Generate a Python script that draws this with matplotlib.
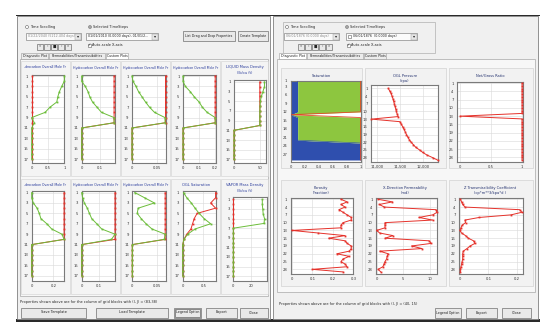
import matplotlib
matplotlib.use('Agg')
import matplotlib.pyplot as plt
from matplotlib.patches import Rectangle, Circle
from matplotlib.ticker import FuncFormatter
from matplotlib.transforms import Bbox

# ---------------- data (left window: 17 grid layers) ----------------
layers_left = [1, 2, 3, 4, 5, 6, 7, 8, 9, 10, 11, 12, 13, 14, 15, 16, 17]

hc1_green = [1.0, 1.0, 0.92, 0.85, 0.80, 0.77, 0.56, 0.41, 0.0, 0.08, 0, 0, 0, 0, 0, 0, 0]
hc1_red = [0, 0, 0, 0, 0, 0, 0, 0, 0, 0, 0, 0, 0, 0, 0, 0, 0]
hc2_green = [0.0, 0.0, 0.02, 0.035, 0.045, 0.06, 0.085, 0.11, 0.18, 0.18, 0, 0, 0, 0, 0, 0, 0]
hc2_red = [0.18, 0.18, 0.18, 0.18, 0.18, 0.18, 0.18, 0.18, 0.18, 0.18, 0, 0, 0, 0, 0, 0, 0]
hc3_green = [0.0, 0.002, 0.008, 0.013, 0.02, 0.027, 0.035, 0.045, 0.066, 0.066, 0, 0, 0, 0, 0, 0, 0]
hc3_red = [0.067, 0.067, 0.067, 0.067, 0.067, 0.067, 0.067, 0.067, 0.067, 0.067, 0, 0, 0, 0, 0, 0, 0]
hc4_green = [0.0, 0.0, 0.015, 0.045, 0.07, 0.10, 0.12, 0.15, 0.20, 0.20, 0, 0, 0, 0, 0, 0, 0]
hc4_red = [0.20, 0.20, 0.20, 0.20, 0.20, 0.20, 0.20, 0.20, 0.20, 0.20, 0, 0, 0, 0, 0, 0, 0]
liq_green = [59, 59, 56, 53, 51, 50.5, 50, 50, 50, 50, 0, 0, 0, 0, 0, 0, 0]
liq_red = [50, 50, 50, 50, 50, 50, 50, 50, 50, 50, 0, 0, 0, 0, 0, 0, 0]

hc5_green = [0.0, 0.0, 0.015, 0.05, 0.07, 0.085, 0.14, 0.185, 0.28, 0.30, 0, 0, 0, 0, 0, 0, 0]
hc5_red = [0.30, 0.30, 0.30, 0.30, 0.30, 0.30, 0.30, 0.30, 0.30, 0.30, 0, 0, 0, 0, 0, 0, 0]
hc6_green = [0.0, 0.005, 0.015, 0.032, 0.044, 0.057, 0.086, 0.114, 0.19, 0.17, 0, 0, 0, 0, 0, 0, 0]
hc6_red = [0.19, 0.19, 0.19, 0.19, 0.19, 0.19, 0.19, 0.19, 0.19, 0.19, 0, 0, 0, 0, 0, 0, 0]
hc7_green = [0.005, 0.025, 0.045, 0.012, 0.01, 0.018, 0.028, 0.04, 0.067, 0.065, 0, 0, 0, 0, 0, 0, 0]
hc7_red = [0.067, 0.067, 0.067, 0.067, 0.067, 0.067, 0.067, 0.067, 0.067, 0.067, 0, 0, 0, 0, 0, 0, 0]
oglsat_green = [0.02, 0.10, 0.21, 0.30, 0.40, 0.52, 0.68, 0.30, 0.12, 0.03, 0, 0, 0, 0, 0, 0, 0]
oglsat_red = [0.80, 0.80, 0.68, 0.80, 0.35, 0.28, 0.24, 0.20, 0.10, 0.03, 0, 0, 0, 0, 0, 0, 0]
vap_green = [33, 33, 33.5, 34, 35.5, 35, 0, 0, 0, 0, 0, 0, 0, 0, 0, 0, 0]
vap_red = [0, 0, 0, 0, 0, 0, 0, 0, 0, 0, 0, 0, 0, 0, 0, 0, 0]

# ---------------- data (right window: 29 grid layers) ----------------
layers_right = [1, 2, 3, 4, 5, 6, 7, 8, 9, 10, 11, 12, 13, 14, 15, 16, 17, 18, 19, 20,
                21, 22, 23, 24, 25, 26, 27, 28, 29]
water_sat = [0.1, 0.1, 0.1, 0.1, 0.1, 0.1, 0.1, 0.1, 0.1, 0.1, 0.1, 0.1, 0.0, 0.1, 0.1,
             0.1, 0.1, 0.1, 0.1, 0.1, 0.1, 0.1, 1.0, 1.0, 1.0, 1.0, 1.0, 1.0, 1.0]
oil_sat = [0.9, 0.9, 0.9, 0.9, 0.9, 0.9, 0.9, 0.9, 0.9, 0.9, 0.9, 0.9, 0.0, 0.9, 0.9,
           0.9, 0.9, 0.9, 0.9, 0.9, 0.9, 0.9, 0.0, 0.0, 0.0, 0.0, 0.0, 0.0, 0.0]
gas_sat = [0, 0, 0, 0, 0, 0, 0, 0, 0, 0, 0, 0, 0, 0, 0, 0, 0, 0, 0, 0, 0, 0, 0, 0, 0, 0, 0, 0, 0]
ogl_pressure = [11250, 11280, 11310, 11330, 11350, 11365, 11380, 11395, 11410, 11425,
                11440, 11465, 10890, 11500, 11530, 11560, 11590, 11615, 11640, 11670,
                11700, 11740, 11790, 11840, 11920, 11990, 12080, 12200, 12310]
net_gross = [1, 1, 1, 1, 1, 1, 1, 1, 1, 1, 1, 1, 0, 1, 1, 1, 1, 1, 1, 1,
             1, 1, 1, 1, 1, 1, 1, 1, 1]
porosity = [0.24, 0.27, 0.24, 0.26, 0.23, 0.25, 0.27, 0.29, 0.29, 0.25, 0.24, 0.24, 0.0,
            0.13, 0.26, 0.18, 0.26, 0.27, 0.29, 0.29, 0.28, 0.22, 0.28, 0.25, 0.24, 0.26,
            0.27, 0.10, 0.25]
x_perm = [0.3, 3.0, 0.5, 1.5, 11.2, 11.4, 10.6, 8.0, 10.6, 1.6, 1.6, 1.6, 0.0, 0.6, 3.1,
          1.6, 9.9, 10.3, 6.6, 8.6, 0.6, 2.2, 2.0, 1.9, 1.6, 1.4, 1.2, 0.3, 0.8]
z_trans = [0.002, 0.006, 0.010, 0.018, 0.21, 0.218, 0.18, 0.068, 0.018, 0.02, 0.008,
           0.004, 0.0, 0.006, 0.02, 0.03, 0.048, 0.053, 0.036, 0.025, 0.012, 0.01, 0.01,
           0.01, 0.008, 0.006, 0.004, 0.002, 0.002]

# ---------------- figure ----------------
W, H = 540, 328
fig = plt.figure(figsize=(5.4, 3.28), dpi=100)
fig.patch.set_facecolor('white')


def frac(x0, y0, x1, y1):
    return [x0 / W, 1 - y1 / H, (x1 - x0) / W, (y1 - y0) / H]


bg = fig.add_axes([0, 0, 1, 1])
bg.set_xlim(0, W)
bg.set_ylim(H, 0)
bg.axis('off')

UI_FS = 2.5
GREEN = '#6cbd3a'
RED = '#e5312a'


def box(x0, y0, x1, y1, fc='#f0f0f0', ec='#a0a0a0', lw=0.5, z=1):
    bg.add_patch(Rectangle((x0, y0), x1 - x0, y1 - y0, fc=fc, ec=ec, lw=lw, zorder=z))


def label(x, y, s, fs=UI_FS, ha='left', color='#222222', **kw):
    return bg.text(x, y, s, fontsize=fs, ha=ha, va='center', color=color, zorder=5, **kw)


def clip_to(t, x0, y0, x1, y1):
    t.set_clip_box(Bbox.from_extents(x0, H - y1, x1, H - y0))
    t.set_clip_on(True)


def button(x0, y0, x1, y1, s, fs=UI_FS, focus=False):
    box(x0, y0, x1, y1, fc='#e9e9e9', ec='#707070', lw=0.5, z=2)
    if focus:
        box(x0 + 1, y0 + 1, x1 - 1, y1 - 1, fc='none', ec='#404040', lw=0.4, z=3)
    label((x0 + x1) / 2, (y0 + y1) / 2, s, fs=fs, ha='center')


def radio(x, y, s, on=False):
    bg.add_patch(Circle((x, y), 1.5, fc='white', ec='#606060', lw=0.4, zorder=3))
    if on:
        bg.add_patch(Circle((x, y), 0.7, fc='#222222', ec='none', zorder=4))
    label(x + 3, y, s)


def checkbox(x, y, s):
    box(x - 1.5, y - 1.5, x + 1.5, y + 1.5, fc='white', ec='#606060', lw=0.4, z=3)
    label(x, y, '✓', fs=2.6, ha='center')
    label(x + 3, y, s)


def dropdown(x0, y0, x1, y1, s, color='#222222'):
    box(x0, y0, x1, y1, fc='#fbfbfb', ec='#8a8a8a', lw=0.5, z=2)
    t = label(x0 + 1.5, (y0 + y1) / 2, s, color=color, fs=2.3)
    clip_to(t, x0, y0, x1 - 6, y1)
    box(x1 - 6, y0 + 0.5, x1 - 0.5, y1 - 0.5, fc='#e6e6e6', ec='#9a9a9a', lw=0.3, z=6)
    bg.text(x1 - 3.2, (y0 + y1) / 2, '▾', fontsize=3, ha='center', va='center',
            color='#222222', zorder=7)


def navbuttons(x0, y0):
    for i, s in enumerate(['«', '‹', '■', '›', '»']):
        button(x0 + i * 7, y0, x0 + i * 7 + 6, y0 + 6, s, fs=2.6)


def tabs(x0, y, names, sel):
    x = x0
    for i, n in enumerate(names):
        w = len(n) * 1.62 + 3
        fc = 'white' if i == sel else '#ececec'
        box(x, y, x + w, y + 6.5, fc=fc, ec='#9a9a9a', lw=0.4, z=2)
        label(x + w / 2, y + 3.3, n, ha='center', fs=2.3)
        x += w + 0.5


# top / bottom window borders
bg.add_patch(Rectangle((16, 14.5), W - 16, 1.6, fc='#2a2a2a', ec='none', zorder=1))
bg.add_patch(Rectangle((16, 319), W - 16, 3, fc='#2a2a2a', ec='none', zorder=1))

# ---------------- left window chrome ----------------
box(17, 16, 269.5, 319, fc='#f0f0f0', ec='#808080', lw=0.6)
radio(27, 27, 'Time Scrolling')
radio(90, 27, 'Selected TimeSteps', on=True)
dropdown(26, 33, 81, 40, '01/22/2040 (5212.404 days)', color='#888888')
dropdown(86, 33, 158, 40, '01/01/2010 (0.0000 days), 01/01/2...')
navbuttons(37, 43.5)
checkbox(89, 45.5, 'Auto-scale X-axis')
button(183, 31, 235, 40.5, 'List Drag and Drop Properties', fs=2.3)
button(237.5, 31, 268, 40.5, 'Create Template', fs=2.3)
box(20, 59, 268, 296, fc='#f7f7f7', ec='#a8a8a8', lw=0.5)
tabs(21, 52.5, ['Diagnostic Plot', 'Permeabilities/Transmissibilities', 'Custom Plots'], 2)
label(20, 302.5, 'Properties shown above are for the column of grid blocks with (I, J) = (83,38)')
button(21, 307.5, 86, 317.5, 'Save Template')
button(96, 307.5, 168, 317.5, 'Load Template')
button(174, 307.5, 201, 317.5, 'Legend Option', focus=True, fs=2.3)
button(206, 307.5, 237, 317.5, 'Export')
button(240, 307.5, 268, 317.5, 'Close')

# ---------------- right window chrome ----------------
box(273, 16, 538, 319, fc='#f0f0f0', ec='#808080', lw=0.6)
box(283, 21.5, 435, 53, fc='none', ec='#b0b0b0', lw=0.5)
radio(287, 27, 'Time Scrolling')
radio(347, 27, 'Selected TimeSteps', on=True)
dropdown(284, 33, 339, 40, '06/01/1876 (0.0000 days)', color='#888888')
dropdown(346, 33, 417, 40, '     06/01/1876  (0.0000 days)')
box(347.5, 35, 350.5, 38, fc='white', ec='#606060', lw=0.4, z=4)
navbuttons(298, 43.5)
checkbox(348, 45.5, 'Auto-scale X-axis')
box(277, 59, 535, 292, fc='#f7f7f7', ec='#a8a8a8', lw=0.5)
tabs(279, 52.5, ['Diagnostic Plot', 'Permeabilities/Transmissibilities', 'Custom Plots'], 0)
label(279, 303.5, 'Properties shown above are for the column of grid blocks with (I, J) = (40, 15)')
button(435, 308, 461, 318, 'Legend Option', fs=2.3)
button(466, 308, 497, 318, 'Export')
button(502, 308, 531, 318, 'Close')

# ---------------- left plot panels ----------------
left_cols = [(20, 70.5), (70.5, 120.5), (120.5, 170.5), (170.5, 220.5), (220.5, 268)]
for (c0, c1) in left_cols:
    box(c0 + 0.5, 61, c1 - 0.5, 176, fc='#f4f4f4', ec='#d0d0d0', lw=0.4)
    box(c0 + 0.5, 179, c1 - 0.5, 294, fc='#f4f4f4', ec='#d0d0d0', lw=0.4)

TITLE_BLUE = '#2a3c9c'


def panel_title(cx, y, s, color=TITLE_BLUE, fs=2.6):
    return label(cx, y, s, fs=fs, ha='center', color=color)


def fmt_g(v, p):
    return f'{v:g}'


def left_plot(rect, green, red, xmax, xticks, ylim):
    ax = fig.add_axes(frac(*rect))
    ax.set_facecolor('white')
    ax.plot(red, layers_left, color=RED, lw=0.7, marker='s', ms=1.3, mew=0, zorder=3, clip_on=False)
    ax.plot(green, layers_left, color=GREEN, lw=0.7, marker='s', ms=1.3, mew=0, zorder=4, clip_on=False)
    ax.set_xlim(0, xmax)
    ax.set_ylim(*ylim)
    ax.set_xticks(xticks)
    ax.set_yticks([1, 3, 5, 7, 9, 11, 13, 15, 17])
    ax.xaxis.set_major_formatter(FuncFormatter(fmt_g))
    ax.tick_params(length=0, labelsize=2.7, pad=2.5, colors='#333333')
    ax.grid(True, color='#d9d9d9', lw=0.4)
    ax.set_axisbelow(True)
    for sp in ax.spines.values():
        sp.set_color('#7a7a7a')
        sp.set_linewidth(0.8)
    return ax


top_lim = (17.75, 0.8)
bot_lim = (18.0, 0.7)
left_plot((31.7, 75, 64.3, 163), hc1_green, hc1_red, 1.0, [0, 0.5, 1], top_lim)
left_plot((81.7, 75, 115, 163), hc2_green, hc2_red, 0.185, [0, 0.1], top_lim)
left_plot((132, 75, 166, 163), hc3_green, hc3_red, 0.068, [0, 0.05], top_lim)
left_plot((183, 75, 216, 163), hc4_green, hc4_red, 0.205, [0, 0.1, 0.2], top_lim)
left_plot((234, 80, 266, 163), liq_green, liq_red, 62, [0, 50], (17.75, 0.6))
left_plot((31.7, 191, 64.3, 281), hc5_green, hc5_red, 0.302, [0, 0.2], bot_lim)
left_plot((81.7, 191, 115, 281), hc6_green, hc6_red, 0.19, [0, 0.1], bot_lim)
left_plot((132.3, 191, 165.7, 281), hc7_green, hc7_red, 0.068, [0, 0.05], bot_lim)
left_plot((182.7, 191, 216, 281), oglsat_green, oglsat_red, 0.81, [0, 0.5], bot_lim)
left_plot((233.3, 197, 266.7, 281), vap_green, vap_red, 38, [0, 20], (18.0, 0.5))

# titles wider than their panels show only their visible middle part
hc_title_first = '-drocarbon Overall Mole Fr'
hc_title = 'Hydrocarbon Overall Mole Fr'
for i, (c0, c1) in enumerate(left_cols[:4]):
    panel_title((c0 + c1) / 2, 67.5, hc_title_first if i == 0 else hc_title, fs=2.35)
for i, (c0, c1) in enumerate(left_cols[:3]):
    panel_title((c0 + c1) / 2, 184.8, hc_title_first if i == 0 else hc_title, fs=2.35)
panel_title(245, 67.3, 'LIQUID Mass Density')
panel_title(245, 73.3, '(lb/cu ft)')
panel_title(195.5, 184.8, 'OGL Saturation')
panel_title(245, 184.8, 'VAPOR Mass Density')
panel_title(245, 190.5, '(lb/cu ft)')

# ---------------- right plot panels ----------------
right_cols = [(280.5, 362), (364.5, 446), (448.5, 532.5)]
for (c0, c1) in right_cols:
    box(c0, 67.5, c1, 168, fc='#f2f2f2', ec='#d2d2d2', lw=0.5)
    box(c0, 179.5, c1, 285.5, fc='#f2f2f2', ec='#d2d2d2', lw=0.5)

NAVY = '#22306e'
RTICKS = [1, 4, 7, 10, 13, 16, 19, 22, 25, 28]


def style_right(ax, yticks, ylim):
    ax.set_facecolor('white')
    ax.set_ylim(*ylim)
    ax.set_yticks(yticks)
    ax.tick_params(length=0, labelsize=2.7, pad=2.5, colors='#333333')
    ax.grid(True, color='#d9d9d9', lw=0.4)
    ax.set_axisbelow(True)
    for sp in ax.spines.values():
        sp.set_color('#7a7a7a')
        sp.set_linewidth(0.8)


def right_line(ax, vals):
    ax.plot(vals, layers_right, color=RED, lw=0.7, marker='s', ms=1.3, mew=0, zorder=3, clip_on=False)


# Saturation (stacked)
ax = fig.add_axes(frac(290.7, 80.7, 360.5, 161.7))
style_right(ax, [1, 3, 6, 9, 12, 15, 18, 21, 24, 27], (29.6, 1.0))
ax.grid(False)
wo = [w + o for w, o in zip(water_sat, oil_sat)]
tot = [w + o + g for w, o, g in zip(water_sat, oil_sat, gas_sat)]
ax.fill_betweenx(layers_right, 0, water_sat, color='#2f4fae', lw=0, zorder=2)
ax.fill_betweenx(layers_right, water_sat, wo, color='#8dc63f', lw=0, zorder=2)
ax.plot(water_sat, layers_right, color='#2f4fae', lw=0.4, zorder=3)
ax.plot(tot, layers_right, color='#e24a2a', lw=0.6, zorder=4)
ax.set_xlim(0, 1)
ax.set_xticks([0, 0.2, 0.4, 0.6, 0.8, 1])
ax.xaxis.set_major_formatter(FuncFormatter(fmt_g))

# OGL pressure
ax = fig.add_axes(frac(371, 85, 437.7, 161.7))
style_right(ax, RTICKS, (29.6, -0.3))
right_line(ax, ogl_pressure)
ax.set_xlim(10880, 12310)
ax.set_xticks([11000, 11500, 12000])
ax.xaxis.set_major_formatter(FuncFormatter(lambda v, p: f'{v:,.0f}'))

# Net / gross
ax = fig.add_axes(frac(457, 82.3, 522.7, 161.7))
style_right(ax, RTICKS, (29.6, 0.65))
right_line(ax, net_gross)
ax.set_xlim(-0.05, 1.01)
ax.set_xticks([0, 0.5, 1])
ax.xaxis.set_major_formatter(FuncFormatter(fmt_g))

# Porosity
ax = fig.add_axes(frac(290.7, 198, 353.3, 274))
style_right(ax, RTICKS, (29.8, 0.5))
right_line(ax, porosity)
ax.set_xlim(-0.005, 0.3)
ax.set_xticks([0, 0.1, 0.2, 0.3])
ax.xaxis.set_major_formatter(FuncFormatter(fmt_g))

# X-direction permeability
ax = fig.add_axes(frac(376, 198, 437, 274))
style_right(ax, RTICKS, (29.8, 0.5))
right_line(ax, x_perm)
ax.set_xlim(-0.1, 11.4)
ax.set_xticks([0, 5, 10])
ax.xaxis.set_major_formatter(FuncFormatter(fmt_g))

# Z transmissibility
ax = fig.add_axes(frac(459, 198, 523, 274))
style_right(ax, RTICKS, (29.8, 0.5))
right_line(ax, z_trans)
ax.set_xlim(-0.003, 0.222)
ax.set_xticks([0, 0.1, 0.2])
ax.xaxis.set_major_formatter(FuncFormatter(fmt_g))

panel_title(321, 75.7, 'Saturation', color=NAVY)
panel_title(405, 75.7, 'OGL Pressure', color=NAVY)
panel_title(405, 80.7, '(kpa)', color=NAVY)
panel_title(490.5, 75.7, 'Net/Gross Ratio', color=NAVY)
panel_title(321, 188.3, 'Porosity', color=NAVY)
panel_title(321, 193.3, '(fraction)', color=NAVY)
panel_title(405, 188.3, 'X-Direction Permeability', color=NAVY)
panel_title(405, 193.3, '(md)', color=NAVY)
panel_title(490.5, 188.3, 'Z Transmissibility Coefficient', color=NAVY)
panel_title(490.5, 193.3, '(cp*m**3/kpa*d )', color=NAVY)

fig.savefig('out.png', dpi=100, facecolor='white')
